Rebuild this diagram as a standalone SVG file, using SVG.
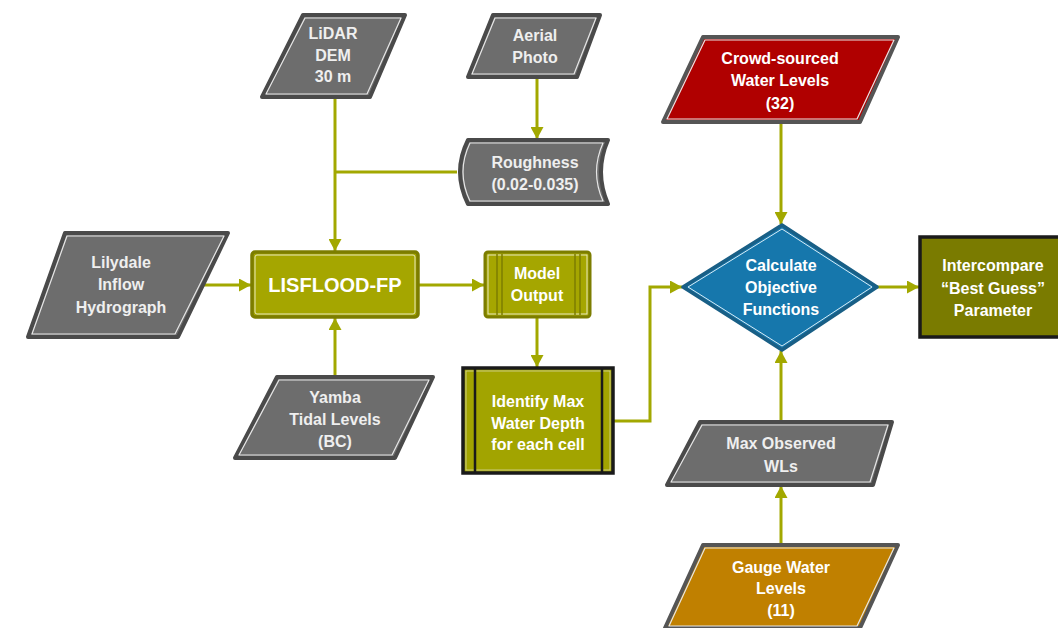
<svg xmlns="http://www.w3.org/2000/svg" width="1058" height="628" viewBox="0 0 1058 628">
<defs>
<style>
.t{font-family:"Liberation Sans",Arial,sans-serif;font-weight:bold;font-size:16px;fill:#ffffff;text-anchor:middle}
.tg{fill:#efefef}
.big{font-size:20px}
.gray{fill:#6d6d6d;stroke:#4a4a4a;stroke-width:4;stroke-linejoin:round}
.hl{fill:none;stroke:#e6e6e6;stroke-width:1.2;stroke-linejoin:round}
.con{fill:none;stroke:#a2a800;stroke-width:3;stroke-linejoin:miter}
</style>
<marker id="ah" markerUnits="userSpaceOnUse" markerWidth="13" markerHeight="13" refX="12" refY="6.5" orient="auto">
<path d="M0,0 L12,6.5 L0,13 Z" fill="#a2a800"/>
</marker>
</defs>
<rect width="1058" height="628" fill="#ffffff"/>

<g id="connectors">
<path class="con" d="M335 97 V251" marker-end="url(#ah)"/>
<path class="con" d="M457 172 H335"/>
<path class="con" d="M537 77 V139" marker-end="url(#ah)"/>
<path class="con" d="M200 285 H251" marker-end="url(#ah)"/>
<path class="con" d="M335 377 V318" marker-end="url(#ah)"/>
<path class="con" d="M418 285 H484" marker-end="url(#ah)"/>
<path class="con" d="M537 317 V367" marker-end="url(#ah)"/>
<path class="con" d="M613 421 H650 V287 H682" marker-end="url(#ah)"/>
<path class="con" d="M781 122 V224" marker-end="url(#ah)"/>
<path class="con" d="M877 287 H919" marker-end="url(#ah)"/>
<path class="con" d="M781 422 V351" marker-end="url(#ah)"/>
<path class="con" d="M781 545 V486" marker-end="url(#ah)"/>
</g>

<g id="lidar">
<path class="gray" d="M303 15 H405 L370 97 H262 Z"/>
<path class="hl" d="M305 18 H401 L367 94 H266 Z"/>
<text class="t tg" x="333" y="39">LiDAR</text>
<text class="t tg" x="333" y="61">DEM</text>
<text class="t tg" x="333" y="82">30 m</text>
</g>

<g id="aerial">
<path class="gray" d="M493 15 H600 L577 77 H468 Z"/>
<path class="hl" d="M495 18 H596 L574 74 H472 Z"/>
<text class="t tg" x="535" y="41">Aerial</text>
<text class="t tg" x="535" y="63">Photo</text>
</g>

<g id="roughness">
<path class="gray" d="M468 140 H608 Q594 172 608 204 H468 Q452 172 468 140 Z"/>
<path class="hl" d="M470 143 H603 Q590 172 603 201 H470 Q456 172 470 143 Z"/>
<text class="t tg" x="535" y="168">Roughness</text>
<text class="t tg" x="535" y="190">(0.02-0.035)</text>
</g>

<g id="lilydale">
<path class="gray" d="M65 233 H228 L178 337 H28 Z"/>
<path class="hl" d="M67 236 H224 L175 334 H32 Z"/>
<text class="t tg" x="121" y="268">Lilydale</text>
<text class="t tg" x="121" y="290">Inflow</text>
<text class="t tg" x="121" y="313">Hydrograph</text>
</g>

<g id="lisflood">
<rect x="252" y="252" width="166" height="65" rx="3" fill="#a5a600" stroke="#7c7d00" stroke-width="3.5"/>
<rect x="255" y="255" width="160" height="59" rx="2" fill="none" stroke="#e8e8c0" stroke-width="1"/>
<text class="t big" x="335" y="292">LISFLOOD-FP</text>
</g>

<g id="yamba">
<path class="gray" d="M277 377 H433 L395 458 H235 Z"/>
<path class="hl" d="M279 380 H429 L392 455 H239 Z"/>
<text class="t tg" x="335" y="403">Yamba</text>
<text class="t tg" x="335" y="425">Tidal Levels</text>
<text class="t tg" x="335" y="447">(BC)</text>
</g>

<g id="model-output">
<rect x="485" y="252" width="105" height="65" rx="3" fill="#a5a600" stroke="#7c7d00" stroke-width="3"/>
<rect x="488" y="255" width="99" height="59" fill="none" stroke="#e8e8c0" stroke-width="1"/>
<path d="M497 254 V315 M502 254 V315 M575 254 V315 M580 254 V315" stroke="#7c7d00" stroke-width="1.5"/>
<text class="t" x="537" y="279">Model</text>
<text class="t" x="537" y="301">Output</text>
</g>

<g id="identify">
<rect x="463" y="368" width="150" height="105" fill="#a2a400" stroke="#1a1a1a" stroke-width="3.5"/>
<rect x="466" y="371" width="144" height="99" fill="none" stroke="#d8d8a0" stroke-width="0.8"/>
<path d="M475 369 V472 M602 369 V472" stroke="#1a1a1a" stroke-width="2.5"/>
<text class="t" x="538" y="407">Identify Max</text>
<text class="t" x="538" y="429">Water Depth</text>
<text class="t" x="538" y="450">for each cell</text>
</g>

<g id="crowd">
<path d="M703 37 H898 L860 122 H663 Z" fill="#b00000" stroke="#555555" stroke-width="4" stroke-linejoin="round"/>
<path class="hl" d="M705 40 H894 L857 119 H667 Z"/>
<text class="t" x="780" y="64">Crowd-sourced</text>
<text class="t" x="780" y="86">Water Levels</text>
<text class="t" x="780" y="109">(32)</text>
</g>

<g id="calculate">
<path d="M782 225 L877 287 L782 350 L683 287 Z" fill="#1677ac" stroke="#195f86" stroke-width="3.5" stroke-linejoin="round"/>
<path d="M782 229 L872 287 L782 346 L688 287 Z" fill="none" stroke="#d8ecf6" stroke-width="1"/>
<text class="t" x="781" y="271">Calculate</text>
<text class="t" x="781" y="293">Objective</text>
<text class="t" x="781" y="315">Functions</text>
</g>

<g id="intercompare">
<rect x="920" y="237" width="140" height="100" fill="#7a7b00" stroke="#1a1a1a" stroke-width="3.5"/>
<text class="t" x="993" y="271">Intercompare</text>
<text class="t" x="993" y="294">“Best Guess”</text>
<text class="t" x="993" y="316">Parameter</text>
</g>

<g id="max-observed">
<path class="gray" d="M700 422 H892 L873 485 H667 Z"/>
<path class="hl" d="M702 425 H888 L870 482 H671 Z"/>
<text class="t tg" x="781" y="449">Max Observed</text>
<text class="t tg" x="781" y="472">WLs</text>
</g>

<g id="gauge">
<path d="M703 545 H898 L860 628 H665 Z" fill="#c08000" stroke="#555555" stroke-width="4" stroke-linejoin="round"/>
<path class="hl" d="M705 548 H894 L857 626 H669 Z"/>
<text class="t" x="781" y="573">Gauge Water</text>
<text class="t" x="781" y="594">Levels</text>
<text class="t" x="781" y="616">(11)</text>
</g>
</svg>
